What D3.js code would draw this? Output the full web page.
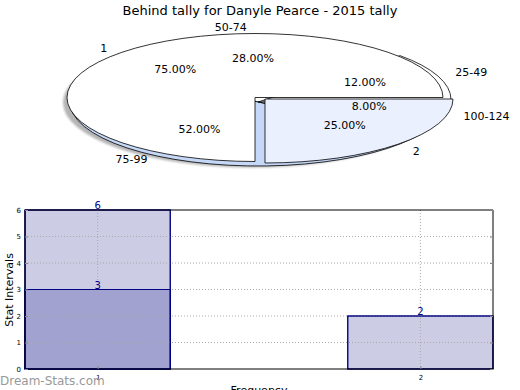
<!DOCTYPE html>
<html><head><meta charset="utf-8">
<script src="https://cdn.jsdelivr.net/npm/d3@7"></script>
<style>
body{margin:0;background:#fff;}
svg{display:block;font-family:"DejaVu Sans",sans-serif;}
</style></head>
<body>
<svg id="c" width="520" height="390"></svg>
<script>
// ---- data ----
const title = "Behind tally for Danyle Pearce - 2015 tally";
const outerLabels = ["1", "2"];
const outerValues = [75, 25];
const innerLabels = ["25-49", "50-74", "75-99", "100-124"];
const innerValues = [12, 28, 52, 8];
const barCategories = [1, 2];
const barTotals = [6, 2];
const barSubset = [3, null];
const yTicks = [0, 1, 2, 3, 4, 5, 6];
const xTicks = [1, 2];

const svg = d3.select("#c");
const defs = svg.append("defs");
defs.append("filter").attr("id", "blur").append("feGaussianBlur").attr("stdDeviation", 1.0);

// ---- pie helpers ----
const pie = d3.pie().sort(null).startAngle(Math.PI / 2).endAngle(Math.PI / 2 - 2 * Math.PI);
const arc = d3.arc().innerRadius(0).outerRadius(1);
const mid = a => Math.PI / 2 - (a.startAngle + a.endAngle) / 2;
const RX = 188, RY = 64;

function drawWedge(g, a, cx, cy, fill) {
  g.append("path")
    .attr("transform", `translate(${cx},${cy}) scale(${RX},${RY})`)
    .attr("d", arc(a))
    .attr("fill", fill)
    .attr("stroke", "#000")
    .attr("stroke-width", 0.8)
    .attr("vector-effect", "non-scaling-stroke");
}

const pg = svg.append("g");
// shadow
pg.append("ellipse").attr("cx", 252).attr("cy", 102.5).attr("rx", RX + 1).attr("ry", RY + 1)
  .attr("fill", "#777").attr("opacity", 0.55).attr("filter", "url(#blur)");

// inner (second) pie, drawn behind
const innerArcs = pie(innerValues);
const innerFill = ["#ffffff", "#ffffff", "#c6d8f7", "#c6d8f7"];
const innerOff = [[5, -2.5], [0, 0], [0, 0], [0, 0]];
innerArcs.forEach((a, i) => drawWedge(pg, a, 258 + innerOff[i][0], 102 + innerOff[i][1], innerFill[i]));

// outer (first) pie on top
const outerArcs = pie(outerValues);
const outerFill = ["#ffffff", "#eaf0fd"];
const outerCenter = [[255, 97.5], [265, 99]];
outerArcs.forEach((a, i) => drawWedge(pg, a, outerCenter[i][0], outerCenter[i][1], outerFill[i]));

// labels
const fmt = v => v.toFixed(2) + "%";
function pieText(arcs, labels, centers, lrx, lry) {
  const tot = d3.sum(arcs, d => d.value);
  arcs.forEach((a, i) => {
    const [cx, cy] = centers[i];
    const m = mid(a);
    pg.append("text").attr("x", cx + lrx * 1.1 * Math.cos(m)).attr("y", cy + 2 - lry * 1.1 * Math.sin(m))
      .attr("text-anchor", Math.cos(m) < 0 ? "end" : "start")
      .attr("dominant-baseline", "middle").attr("font-size", 11).text(labels[i]);
    pg.append("text").attr("x", cx + RX * 0.6 * Math.cos(m)).attr("y", cy - RY * 0.6 * Math.sin(m))
      .attr("text-anchor", "middle").attr("dominant-baseline", "middle")
      .attr("font-size", 11).text(fmt(100 * a.value / tot));
  });
}
pieText(outerArcs, outerLabels, outerCenter, 190, 65);
pieText(innerArcs, innerLabels, innerArcs.map(() => [260, 97.5]), 191, 65);

// title
svg.append("text").attr("x", 260).attr("y", 15).attr("text-anchor", "middle")
  .attr("font-size", 13).text(title);

// ---- bar chart ----
const x = d3.scaleLinear().domain([0.775, 2.225]).range([25, 493]);
const y = d3.scaleLinear().domain([0, 6]).range([369, 210]);
const bw = x(1.45) - x(1);
const light = "#cccce5", dark = "#a2a2d0", edge = "#000080";

const bg = svg.append("g");
function bars(fillOn) {
  barCategories.forEach((c, i) => {
    bg.append("rect").attr("x", x(c) - bw / 2).attr("y", y(barTotals[i]))
      .attr("width", bw).attr("height", y(0) - y(barTotals[i]))
      .attr("fill", fillOn ? light : "none").attr("stroke", edge).attr("stroke-width", 1);
  });
  barCategories.forEach((c, i) => {
    if (barSubset[i] == null) return;
    bg.append("rect").attr("x", x(c) - bw / 2).attr("y", y(barSubset[i]))
      .attr("width", bw).attr("height", y(0) - y(barSubset[i]))
      .attr("fill", fillOn ? dark : "none").attr("stroke", edge).attr("stroke-width", 1);
  });
}
bars(true);

// grid
const grid = bg.append("g").attr("stroke", "#aaa").attr("stroke-width", 1).attr("stroke-dasharray", "1,2");
yTicks.slice(1, -1).forEach(t => grid.append("line").attr("x1", 25).attr("x2", 493).attr("y1", y(t)).attr("y2", y(t)));
xTicks.forEach(t => grid.append("line").attr("x1", x(t)).attr("x2", x(t)).attr("y1", 210).attr("y2", 369));

// bar edges above the grid
bars(false);

// frame
svg.append("line").attr("x1", 25).attr("x2", 493).attr("y1", 210).attr("y2", 210).attr("stroke", "#000");
svg.append("line").attr("x1", 25).attr("x2", 493).attr("y1", 369).attr("y2", 369).attr("stroke", "#000");
svg.append("line").attr("x1", 25).attr("x2", 25).attr("y1", 210).attr("y2", 369).attr("stroke", "#000");
svg.append("line").attr("x1", 493).attr("x2", 493).attr("y1", 210).attr("y2", 369).attr("stroke", "#000");

// axes
const ya = d3.axisLeft(y).tickValues(yTicks).tickSize(-3).tickPadding(4).tickFormat(d3.format("d"));
const yg = svg.append("g").attr("transform", "translate(25,0)").call(ya);
yg.select(".domain").remove();
yg.selectAll("text").attr("font-size", 7).attr("font-family", "DejaVu Sans");
yg.selectAll("line").attr("stroke", "#888");
const yr = d3.axisRight(y).tickValues(yTicks).tickSize(-3).tickFormat("");
const yrg = svg.append("g").attr("transform", "translate(493,0)").call(yr);
yrg.select(".domain").remove(); yrg.selectAll("line").attr("stroke", "#888");

const xa = d3.axisBottom(x).tickValues(xTicks).tickSize(-3).tickPadding(6).tickFormat(d3.format("d"));
const xg = svg.append("g").attr("transform", "translate(0,369)").call(xa);
xg.select(".domain").remove();
xg.selectAll("text").attr("font-size", 7).attr("font-family", "DejaVu Sans");
xg.selectAll("line").attr("stroke", "#888");

// value labels
const vl = svg.append("g").attr("fill", "#00008b").attr("font-size", 10).attr("text-anchor", "middle");
barCategories.forEach((c, i) => {
  vl.append("text").attr("x", x(c)).attr("y", y(barTotals[i]) - 1).text(barTotals[i]);
  if (barSubset[i] != null) vl.append("text").attr("x", x(c)).attr("y", y(barSubset[i]) - 1).text(barSubset[i]);
});

// axis titles
svg.append("text").attr("transform", "translate(13,290) rotate(-90)").attr("text-anchor", "middle")
  .attr("font-size", 11).text("Stat Intervals");
svg.append("text").attr("x", 259).attr("y", 394).attr("text-anchor", "middle")
  .attr("font-size", 11).text("Frequency");
svg.append("text").attr("x", 0).attr("y", 385).attr("font-size", 12).attr("fill", "#999")
  .text("Dream-Stats.com");
</script>
</body></html>
